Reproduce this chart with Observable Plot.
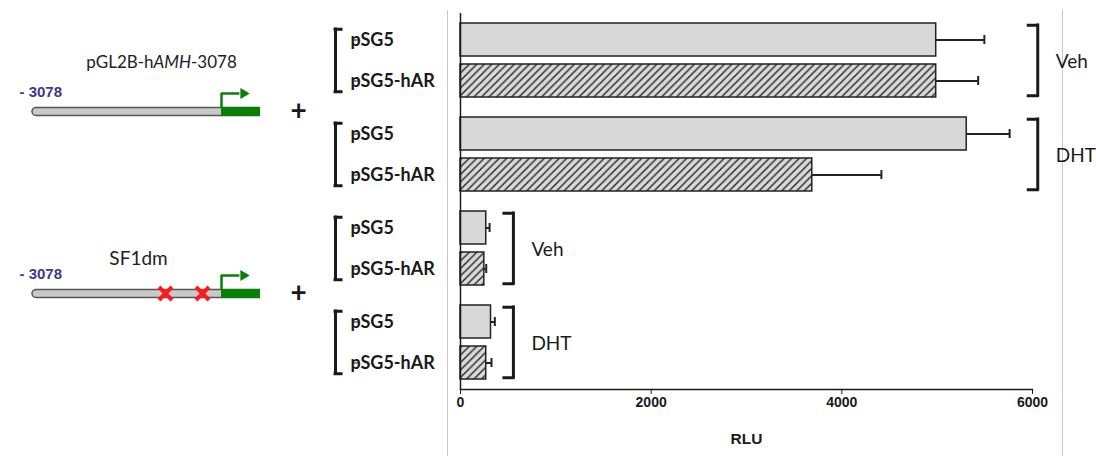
<!DOCTYPE html>
<html>
<head>
<meta charset="utf-8">
<script src="https://cdn.jsdelivr.net/npm/d3@7"></script>
<script src="https://cdn.jsdelivr.net/npm/@observablehq/plot@0.6"></script>
<style>
  html, body { margin: 0; padding: 0; background: #fff; }
  #wrap { position: relative; width: 1096px; height: 456px; overflow: hidden; }
  #panel { position: absolute; left: 447px; top: 10px; width: 614px; height: 446px;
           border-left: 1px solid #c8c8c8; border-right: 1px solid #c8c8c8; }
  #chart, #diagram { position: absolute; left: 0; top: 0; }
</style>
</head>
<body>
<svg width="0" height="0" style="position:absolute">
  <defs>
    <pattern id="hatch" patternUnits="userSpaceOnUse" width="7.5" height="7.5">
      <rect width="7.5" height="7.5" fill="#d9d9d9"></rect>
      <path d="M-1,1 l2,-2 M0,7.5 l7.5,-7.5 M6.5,8.5 l2,-2" stroke="#262626" stroke-width="1.4"></path>
    </pattern>
  </defs>
</svg>
<div id="wrap">
  <div id="panel"></div>
  <div id="chart"></div>
  <div id="diagram"></div>
</div>
<script>
// ---------- data ----------
const groups = ["hAMH-Veh", "hAMH-DHT", "SF1dm-Veh", "SF1dm-DHT"];
const groupConstruct = ["pGL2B-hAMH-3078", "pGL2B-hAMH-3078", "SF1dm", "SF1dm"];
const groupTreatment = ["Veh", "DHT", "Veh", "DHT"];
const vectors = ["pSG5", "pSG5-hAR"];
const rlu = [4990, 4990, 5310, 3690, 270, 250, 320, 270];
const rluErr = [505, 440, 450, 725, 35, 20, 40, 55];
const xTicks = [0, 2000, 4000, 6000];

const constructs = ["pGL2B-hAMH-3078", "SF1dm"];
const promoterStart = [-3078, -3078];
const reporterEnd = [650, 650];
const mutatedSites = [[], [-932, -316]];

// ---------- tables ----------
const bars = rlu.map((v, i) => ({
  group: groups[Math.floor(i / 2)], vector: vectors[i % 2], value: v, err: rluErr[i]
}));
const groupRows = groups.map((g, i) => ({group: g, treatment: groupTreatment[i], construct: groupConstruct[i]}));
const rightX = d => d.construct === constructs[0] ? 6055 : 555;
const leftX = -1311;

const FONT = "Lato, 'Open Sans', sans-serif";
const AFONT = "'Liberation Sans', Arial, sans-serif";
const INK = "#1a1a1a";

const chart = Plot.plot({
  width: 1096, height: 456,
  marginLeft: 460, marginRight: 64, marginTop: 12, marginBottom: 66,
  style: {background: "transparent", color: INK, overflow: "visible", fontFamily: FONT},
  x: {domain: [0, 6000]},
  y: {domain: vectors, paddingInner: 0.19, paddingOuter: 0.22, label: null},
  fy: {domain: groups, padding: 0, axis: null, label: null},
  marks: [
    Plot.barX(bars.filter(d => d.vector === vectors[0]), {x: "value", y: "vector", fy: "group", fill: "#d8d8d8", stroke: "#222", strokeWidth: 1.5}),
    Plot.barX(bars.filter(d => d.vector === vectors[1]), {x: "value", y: "vector", fy: "group", fill: "url(#hatch)", stroke: "#222", strokeWidth: 1.5}),
    Plot.ruleY(bars, {y: "vector", fy: "group", x1: "value", x2: d => d.value + d.err, stroke: "#222", strokeWidth: 2}),
    Plot.tickX(bars, {x: d => d.value + d.err, y: "vector", fy: "group", insetTop: 12, insetBottom: 12, stroke: "#222", strokeWidth: 2}),
    Plot.ruleX([0], {stroke: INK, strokeWidth: 1.5}),
    Plot.frame({anchor: "bottom", facetAnchor: "bottom", stroke: INK, strokeWidth: 1.5}),
    Plot.axisY({tickSize: 5, tickPadding: 3, textAnchor: "start", dx: -102, fontSize: 18, fontWeight: "bold", fontFamily: FONT, label: null, stroke: INK}),
    Plot.axisX({ticks: xTicks, tickSize: 5, tickPadding: 3, fontSize: 14, fontWeight: "bold", fontFamily: AFONT,
      label: null, tickFormat: d => String(d)}),
    Plot.axisX({ticks: [], tickSize: 0, fontSize: 15.5, fontWeight: "bold", fontFamily: AFONT,
      label: "RLU", labelAnchor: "center", labelArrow: "none", labelOffset: 54}),
    // right brackets "]"
    Plot.ruleX(groupRows, {x: rightX, fy: "group", insetTop: 12, insetBottom: 12, stroke: INK, strokeWidth: 3, strokeLinecap: "square"}),
    Plot.ruleY(groupRows, {y: null, x1: rightX, x2: rightX, fy: "group", dy: -35.25, insetLeft: -9, stroke: INK, strokeWidth: 3, strokeLinecap: "square"}),
    Plot.ruleY(groupRows, {y: null, x1: rightX, x2: rightX, fy: "group", dy: 35.25, insetLeft: -9, stroke: INK, strokeWidth: 3, strokeLinecap: "square"}),
    // left brackets "["
    Plot.ruleX(groupRows, {x: () => leftX, fy: "group", insetTop: 16, insetBottom: 16, stroke: INK, strokeWidth: 3, strokeLinecap: "square"}),
    Plot.ruleY(groupRows, {y: null, x1: () => leftX, x2: () => leftX, fy: "group", dy: -31.25, insetRight: -6, stroke: INK, strokeWidth: 3, strokeLinecap: "square"}),
    Plot.ruleY(groupRows, {y: null, x1: () => leftX, x2: () => leftX, fy: "group", dy: 31.25, insetRight: -6, stroke: INK, strokeWidth: 3, strokeLinecap: "square"}),
    // treatment labels
    Plot.text(groupRows, {x: rightX, fy: "group", text: "treatment", frameAnchor: "middle", textAnchor: "start", dx: 18, dy: 1, fontSize: 19, fontFamily: FONT, fill: INK})
  ]
});
document.getElementById("chart").appendChild(chart);

// ---------- construct diagrams ----------
const rows = constructs.map((c, i) => ({construct: c, start: promoterStart[i], end: reporterEnd[i]}));
const mutations = constructs.flatMap((c, i) => mutatedSites[i].map(p => ({construct: c, pos: p})));
const GREEN = "#0b7d0b";
const arrowTip = 366;

const diagram = Plot.plot({
  width: 330, height: 456, margin: 0,
  style: {background: "transparent", overflow: "visible", fontFamily: FONT},
  x: {domain: [-3078, 0], range: [36, 221], axis: null},
  y: {type: "point", domain: constructs, range: [111, 293], padding: 0, axis: null},
  marks: [
    Plot.ruleY(rows, {y: "construct", x1: "start", x2: 0, stroke: "#555", strokeWidth: 9.5, strokeLinecap: "round"}),
    Plot.ruleY(rows, {y: "construct", x1: "start", x2: 0, stroke: "#c9c9c9", strokeWidth: 6.5, strokeLinecap: "round"}),
    Plot.ruleY(rows, {y: "construct", x1: 0, x2: "end", stroke: GREEN, strokeWidth: 9.5}),
    Plot.dot(mutations, {x: "pos", y: "construct", symbol: "times", r: 6, stroke: "#ff1a1a", strokeWidth: 4}),
    Plot.ruleX(rows, {x: () => 0, y1: "construct", y2: "construct", insetTop: -18, insetBottom: 4, stroke: GREEN, strokeWidth: 2.5}),
    Plot.ruleY(rows, {y: "construct", x1: () => 0, x2: () => arrowTip - 60, dy: -18, stroke: GREEN, strokeWidth: 2.5}),
    Plot.dot(rows, {x: () => arrowTip, y: "construct", dy: -18, symbol: "triangle", rotate: 90, r: 4, fill: GREEN, stroke: "none"}),
    Plot.text(rows, {x: "start", y: "construct", dy: -19, dx: -17, textAnchor: "start", text: d => "- " + Math.abs(d.start),
      fill: "#3b3b86", fontWeight: "bold", fontSize: 15, fontFamily: AFONT}),
    Plot.text(rows, {x: "end", y: "construct", dx: 38, text: () => "+", fontSize: 28, fontWeight: "bold", fill: INK}),
    Plot.text(rows.filter(d => d.construct === constructs[0]), {x: () => -998, y: "construct", dy: -49, text: "construct", fontSize: 17, fill: "#222"}),
    Plot.text(rows.filter(d => d.construct === constructs[1]), {x: () => -1381, y: "construct", dy: -35, text: "construct", fontSize: 19, fill: "#222"})
  ]
});
document.getElementById("diagram").appendChild(diagram);

// italicise the gene symbol inside the construct name
d3.select(diagram).selectAll("text").filter(function () { return this.textContent === "pGL2B-hAMH-3078"; })
  .each(function () {
    const t = d3.select(this);
    t.text(null);
    t.append("tspan").text("pGL2B-h");
    t.append("tspan").attr("font-style", "italic").text("AMH");
    t.append("tspan").text("-3078");
  });
</script>
</body>
</html>
